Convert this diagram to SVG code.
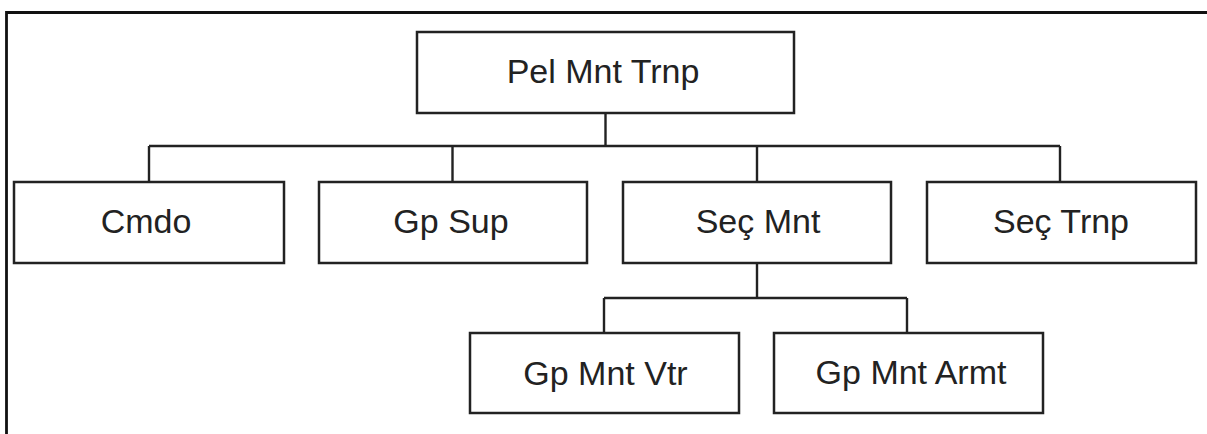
<svg xmlns="http://www.w3.org/2000/svg" width="1207" height="434" viewBox="0 0 1207 434">
  <style>
    .box { fill: #ffffff; stroke: #222222; stroke-width: 2.5; }
    .lbl { font-family: "Liberation Sans", Arial, sans-serif; font-size: 34px; fill: #222222; text-anchor: middle; }
    .wire { fill: none; stroke: #222222; stroke-width: 2.4; }
    .frame { fill: none; stroke: #111111; stroke-width: 2.8; }
  </style>
  <rect x="0" y="0" width="1207" height="434" fill="#ffffff"/>
  <!-- outer frame: top and left edges -->
  <path class="frame" d="M6.5 434 V12.5 H1207"/>

  <g id="connectors">
    <path class="wire" d="M605.5 113 V146"/>
    <path class="wire" d="M149 146 H1060"/>
    <path class="wire" d="M149 146 V182 M452.5 146 V182 M757 146 V182 M1060 146 V182"/>
    <path class="wire" d="M757 263 V298"/>
    <path class="wire" d="M604 298 H907"/>
    <path class="wire" d="M604 298 V333 M907 298 V333"/>
  </g>

  <g id="pel-mnt-trnp">
    <rect class="box" x="417" y="32" width="377" height="81"/>
    <text class="lbl" x="603" y="83">Pel Mnt Trnp</text>
  </g>
  <g id="cmdo">
    <rect class="box" x="14" y="182" width="270" height="81"/>
    <text class="lbl" x="146" y="232.5">Cmdo</text>
  </g>
  <g id="gp-sup">
    <rect class="box" x="319" y="182" width="268" height="81"/>
    <text class="lbl" x="451" y="232.5">Gp Sup</text>
  </g>
  <g id="sec-mnt">
    <rect class="box" x="623" y="182" width="268" height="81"/>
    <text class="lbl" x="758" y="232.5">Seç Mnt</text>
  </g>
  <g id="sec-trnp">
    <rect class="box" x="927" y="182" width="269" height="81"/>
    <text class="lbl" x="1061" y="232.5">Seç Trnp</text>
  </g>
  <g id="gp-mnt-vtr">
    <rect class="box" x="470" y="333" width="269" height="80"/>
    <text class="lbl" x="605.5" y="385">Gp Mnt Vtr</text>
  </g>
  <g id="gp-mnt-armt">
    <rect class="box" x="774" y="333" width="269" height="80"/>
    <text class="lbl" x="911" y="384">Gp Mnt Armt</text>
  </g>
</svg>
